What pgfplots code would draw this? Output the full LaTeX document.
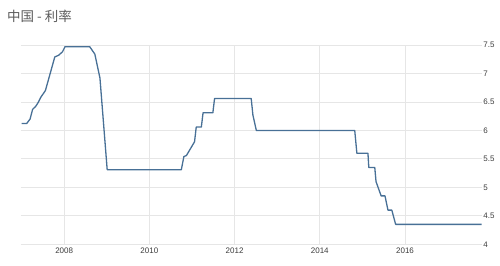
\documentclass[border=0pt]{standalone}
\usepackage{pgfplots}
\pgfplotsset{compat=1.18}
\usepackage{fontspec}
\setmainfont{Liberation Sans}
\newfontfamily\cjk{Noto Sans CJK SC}
\definecolor{linec}{RGB}{72,112,150}
\definecolor{gridc}{RGB}{230,230,230}
\definecolor{tickc}{RGB}{60,60,60}
\definecolor{titlec}{RGB}{90,90,90}
\begin{document}
\begin{tikzpicture}
\begin{axis}[
  at={(20.7pt,20.7pt)}, anchor=south west,
  scale only axis, width=461pt, height=199.3pt,
  xmin=2006.98, xmax=2017.8, ymin=4, ymax=7.5,
  axis line style={draw=none},
  xtick={2008,2010,2012,2014,2016},
  ytick={4,4.5,5,5.5,6,6.5,7,7.5},
  yticklabel pos=right,
  major tick length=0pt,
  grid=major,
  major grid style={gridc, line width=0.8pt},
  /pgf/number format/assume math mode=true,
  /pgf/number format/1000 sep={},
  tick label style={font=\fontsize{8}{9.5}\selectfont, text=tickc},
  yticklabel style={inner sep=1.5pt},
  xticklabel style={inner sep=2pt, yshift=-1pt},
]
\addplot[linec, line width=1.3pt, line join=round] coordinates {
(2007.00,6.12)
(2007.12,6.12)
(2007.20,6.20)
(2007.26,6.37)
(2007.33,6.42)
(2007.39,6.49)
(2007.45,6.58)
(2007.56,6.70)
(2007.78,7.29)
(2007.87,7.32)
(2007.96,7.38)
(2008.02,7.47)
(2008.60,7.47)
(2008.72,7.34)
(2008.84,6.92)
(2009.01,5.31)
(2010.75,5.31)
(2010.81,5.54)
(2010.87,5.56)
(2011.06,5.80)
(2011.10,6.06)
(2011.22,6.06)
(2011.26,6.31)
(2011.49,6.31)
(2011.53,6.56)
(2012.39,6.56)
(2012.43,6.27)
(2012.51,6.00)
(2014.82,6.00)
(2014.87,5.60)
(2015.13,5.60)
(2015.15,5.35)
(2015.29,5.35)
(2015.32,5.10)
(2015.44,4.85)
(2015.53,4.85)
(2015.60,4.60)
(2015.69,4.60)
(2015.78,4.35)
(2017.80,4.35)
};
\end{axis}
\node[anchor=west, inner sep=0pt, text=titlec, font=\cjk\fontsize{13.5}{15}\selectfont] at (7pt,249pt) {中国 - 利率};
\pgfresetboundingbox
\path[use as bounding box] (0,0) rectangle (500pt,265pt);
\end{tikzpicture}
\end{document}
